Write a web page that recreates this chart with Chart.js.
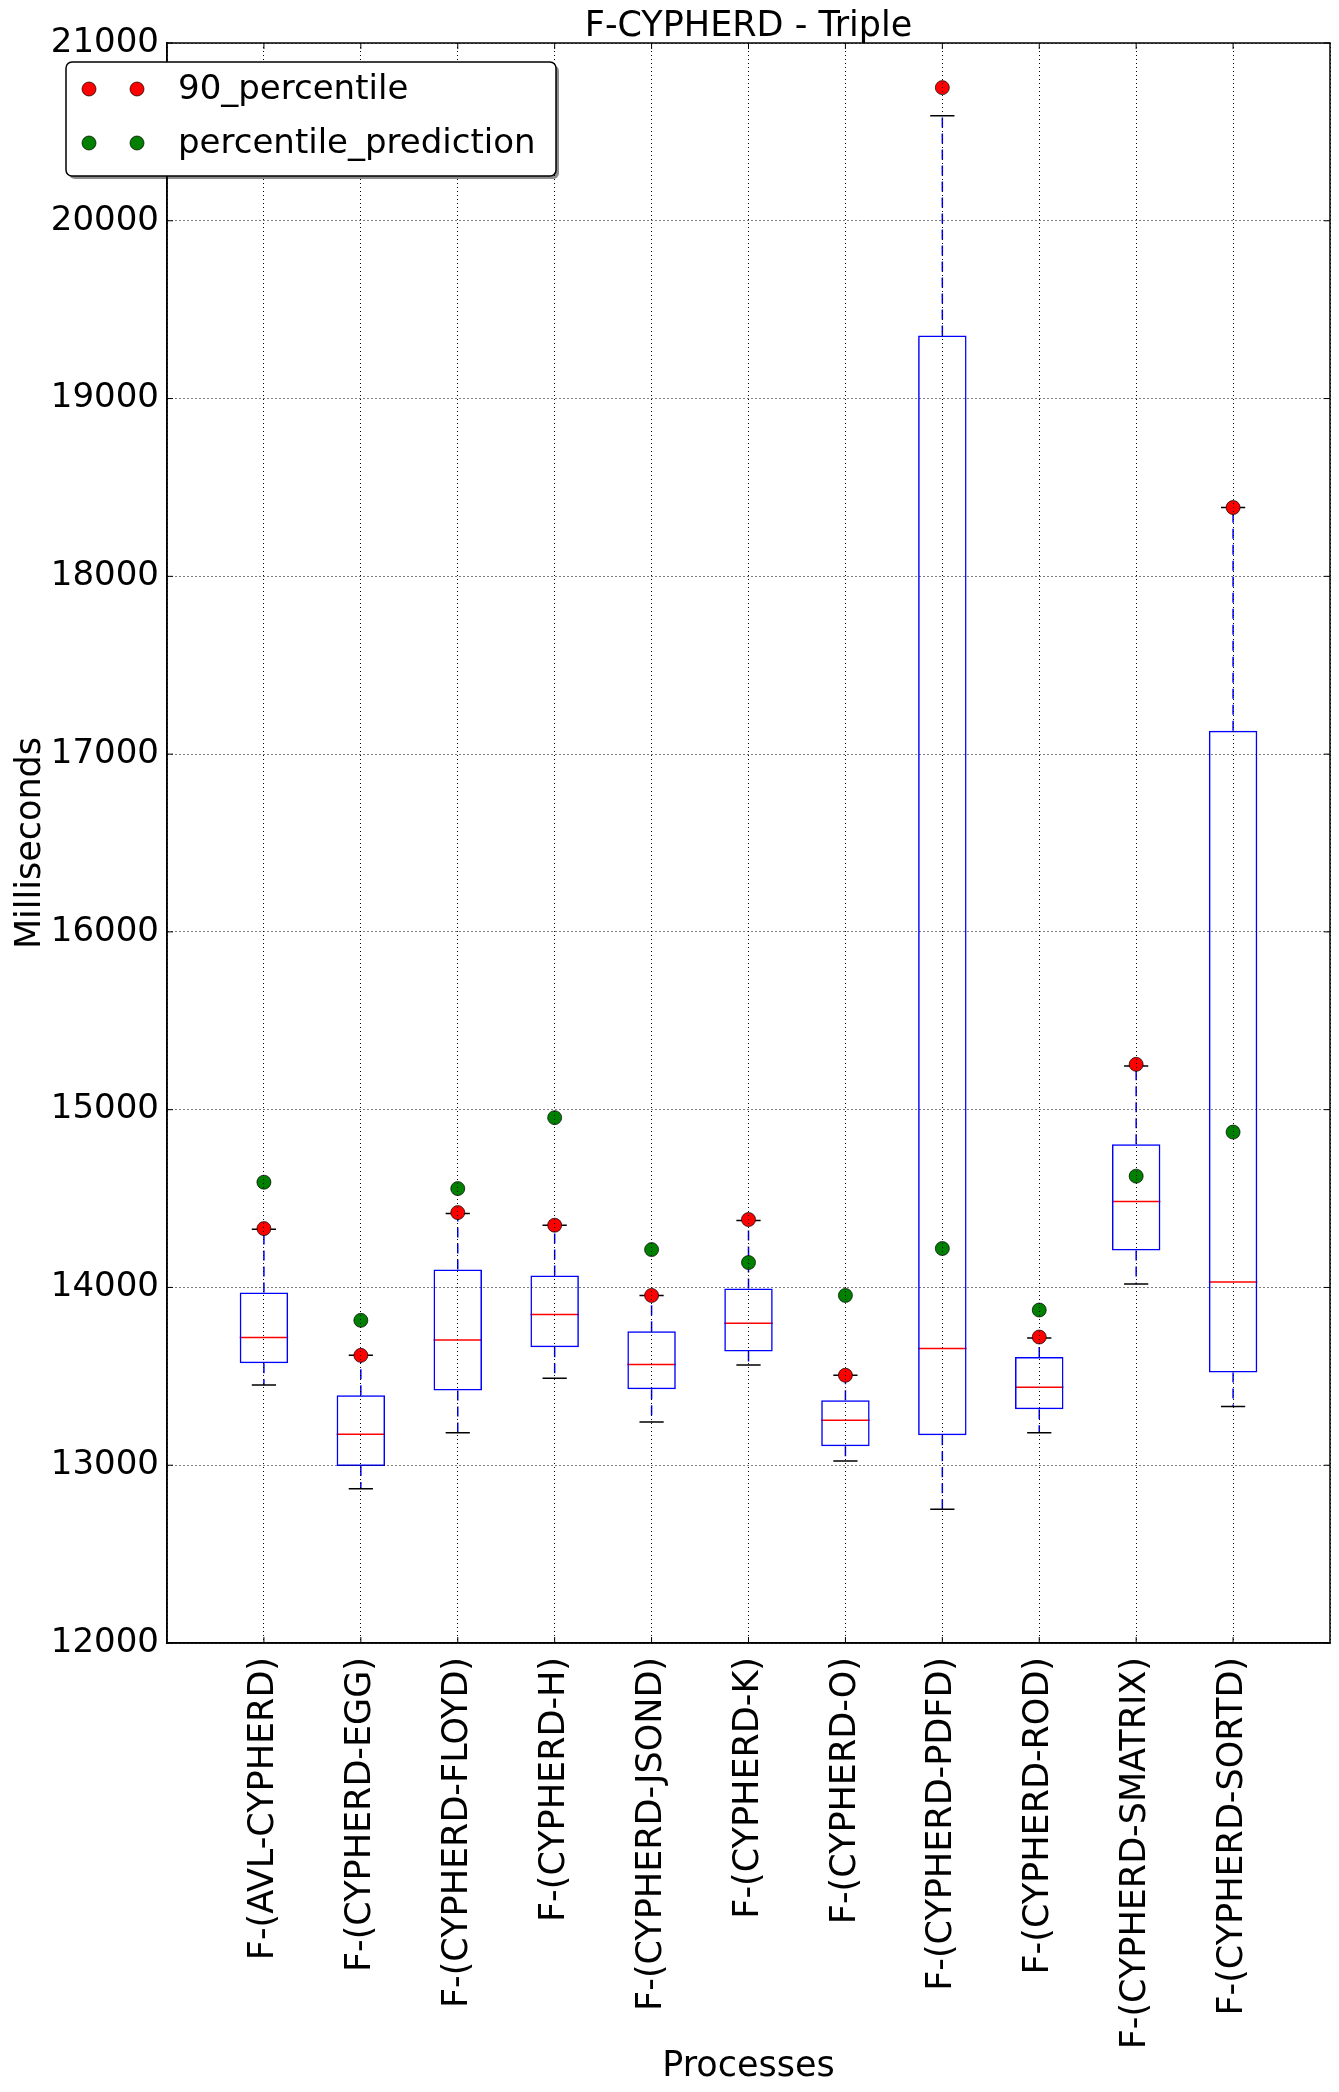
<!DOCTYPE html>
<html>
<head>
<meta charset="utf-8">
<title>F-CYPHERD - Triple</title>
<script src="https://cdn.jsdelivr.net/npm/chart.js@4.4.1/dist/chart.umd.min.js"></script>
<style>
  html, body { margin: 0; padding: 0; background: #fff; }
  canvas { display: block; }
</style>
</head>
<body>
<canvas id="box-chart" width="1339" height="2092"></canvas>
<script>
// process names, one box each (positions 1..11 on the x axis)
const categories = [
    'F-(AVL-CYPHERD)', 'F-(CYPHERD-EGG)', 'F-(CYPHERD-FLOYD)', 'F-(CYPHERD-H)',
    'F-(CYPHERD-JSOND)', 'F-(CYPHERD-K)', 'F-(CYPHERD-O)', 'F-(CYPHERD-PDFD)',
    'F-(CYPHERD-ROD)', 'F-(CYPHERD-SMATRIX)', 'F-(CYPHERD-SORTD)'
];

// box plot statistics (ms)
const whiskerLow  = [13451, 12867, 13182, 13489, 13243, 13564, 13024, 12753, 13182, 14019, 13331];
const q1          = [13573, 12996, 13421, 13663, 13427, 13640, 13107, 13169, 13315, 14208, 13522];
const median      = [13719, 13174, 13704, 13848, 13567, 13798, 13253, 13657, 13438, 14483, 14030];
const q3          = [13972, 13393, 14101, 14067, 13753, 13994, 13365, 19355, 13609, 14806, 17132];
const whiskerHigh = [14328, 13618, 14416, 14350, 13955, 14376, 13506, 20591, 13715, 15245, 18387];

// markers
const p90        = [14331, 13618, 14421, 14350, 13955, 14382, 13506, 20749, 13721, 15255, 18387];
const prediction = [14592, 13815, 14556, 14955, 14213, 14140, 13955, 14219, 13873, 14626, 14874];

const yMin = 12000;
const yMax = 21000;
const yStep = 1000;

const FONT = 'DejaVu Sans';
const FONT_SIZE = 35;

Chart.defaults.font.family = FONT;
Chart.defaults.color = '#000';

// whiskers, caps and medians, drawn under the boxes and markers
const boxParts = {
    id: 'boxParts',
    beforeDatasetsDraw(chart) {
        const { ctx, scales: { x, y } } = chart;
        const bars = chart.getDatasetMeta(2).data;
        ctx.save();
        bars.forEach((bar, i) => {
            const cx = x.getPixelForValue(i + 1);
            const half = bar.width / 2;

            // dashed whiskers
            ctx.strokeStyle = '#0000ff';
            ctx.lineWidth = 1.5;
            ctx.setLineDash([10, 6]);
            ctx.beginPath();
            ctx.moveTo(cx, y.getPixelForValue(q3[i]));
            ctx.lineTo(cx, y.getPixelForValue(whiskerHigh[i]));
            ctx.moveTo(cx, y.getPixelForValue(q1[i]));
            ctx.lineTo(cx, y.getPixelForValue(whiskerLow[i]));
            ctx.stroke();
            ctx.setLineDash([]);

            // caps
            ctx.strokeStyle = '#000';
            ctx.beginPath();
            [whiskerHigh[i], whiskerLow[i]].forEach(v => {
                const py = y.getPixelForValue(v);
                ctx.moveTo(cx - half / 2, py);
                ctx.lineTo(cx + half / 2, py);
            });
            ctx.stroke();

            // median
            ctx.strokeStyle = '#ff0000';
            ctx.beginPath();
            const my = y.getPixelForValue(median[i]);
            ctx.moveTo(cx - half, my);
            ctx.lineTo(cx + half, my);
            ctx.stroke();
        });
        ctx.restore();
    }
};

// closed frame with inward ticks on all four sides
const frame = {
    id: 'frame',
    afterDraw(chart) {
        const { ctx, chartArea: a, scales: { x, y } } = chart;
        const tl = 6;
        ctx.save();
        ctx.strokeStyle = '#000';
        ctx.lineWidth = 1.5;
        ctx.strokeRect(a.left, a.top, a.right - a.left, a.bottom - a.top);
        ctx.lineWidth = 1;
        ctx.beginPath();
        y.ticks.forEach(t => {
            const py = y.getPixelForValue(t.value);
            ctx.moveTo(a.left, py); ctx.lineTo(a.left + tl, py);
            ctx.moveTo(a.right, py); ctx.lineTo(a.right - tl, py);
        });
        categories.forEach((c, i) => {
            const px = x.getPixelForValue(i + 1);
            ctx.moveTo(px, a.top); ctx.lineTo(px, a.top + tl);
            ctx.moveTo(px, a.bottom); ctx.lineTo(px, a.bottom - tl);
        });
        ctx.stroke();
        ctx.restore();
    }
};

// matplotlib style legend: two markers per entry, rounded box with shadow
const boxLegend = {
    id: 'boxLegend',
    afterDraw(chart) {
        const { ctx } = chart;
        const items = chart.data.datasets.filter(d => d.type === 'scatter');
        const box = { x: 66, y: 62, w: 490, h: 114, r: 6 };
        ctx.save();
        ctx.fillStyle = 'rgba(0,0,0,0.45)';
        ctx.beginPath();
        ctx.roundRect(box.x + 3, box.y + 3, box.w, box.h, box.r);
        ctx.fill();
        ctx.fillStyle = '#fff';
        ctx.strokeStyle = '#000';
        ctx.lineWidth = 1.5;
        ctx.beginPath();
        ctx.roundRect(box.x, box.y, box.w, box.h, box.r);
        ctx.fill();
        ctx.stroke();

        ctx.font = '34px "' + FONT + '"';
        ctx.textBaseline = 'middle';
        ctx.textAlign = 'left';
        items.forEach((d, k) => {
            const ry = box.y + 27 + k * 54;
            [89, 137].forEach(mx => {
                ctx.beginPath();
                ctx.arc(mx, ry, 7, 0, Math.PI * 2);
                ctx.fillStyle = d.backgroundColor;
                ctx.fill();
                ctx.lineWidth = 0.7;
                ctx.strokeStyle = '#000';
                ctx.stroke();
            });
            ctx.fillStyle = '#000';
            ctx.fillText(d.label, 178, ry + 1);
        });
        ctx.restore();
    }
};

const gridOpts = { color: '#000', lineWidth: 1, drawTicks: false, z: 1 };
const borderOpts = { display: true, color: '#000', width: 1.5, dash: [1, 3], z: 1 };

const toPoints = arr => arr.map((v, i) => ({ x: i + 1, y: v }));

new Chart(document.getElementById('box-chart'), {
    type: 'bar',
    data: {
        datasets: [
            {
                type: 'scatter',
                label: '90_percentile',
                data: toPoints(p90),
                backgroundColor: '#ff0000',
                borderColor: '#000',
                borderWidth: 0.7,
                pointRadius: 7
            },
            {
                type: 'scatter',
                label: 'percentile_prediction',
                data: toPoints(prediction),
                backgroundColor: '#008000',
                borderColor: '#000',
                borderWidth: 0.7,
                pointRadius: 7
            },
            {
                type: 'bar',
                label: 'box',
                data: categories.map((c, i) => ({ x: i + 1, y: [q1[i], q3[i]] })),
                backgroundColor: 'rgba(0,0,0,0)',
                borderColor: '#0000ff',
                borderWidth: 1.5,
                borderSkipped: false,
                categoryPercentage: 1,
                barPercentage: 0.5
            }
        ]
    },
    options: {
        responsive: false,
        animation: false,
        devicePixelRatio: 1,
        layout: { padding: { top: 0, right: 9, bottom: 0, left: 0 } },
        plugins: {
            legend: { display: false },
            tooltip: { enabled: false },
            title: {
                display: true,
                fullSize: false,
                text: 'F-CYPHERD - Triple',
                color: '#000',
                font: { size: FONT_SIZE, weight: 'normal', lineHeight: 0.9 },
                padding: { top: 11, bottom: 0.5 }
            }
        },
        scales: {
            x: {
                type: 'linear',
                min: 0,
                max: 12,
                offset: false,
                grid: { ...gridOpts, offset: false },
                border: borderOpts,
                ticks: {
                    stepSize: 1,
                    autoSkip: false,
                    minRotation: 90,
                    maxRotation: 90,
                    padding: 14,
                    color: '#000',
                    font: { size: FONT_SIZE },
                    callback: v => categories[v - 1] || ''
                },
                title: {
                    display: true,
                    text: 'Processes',
                    color: '#000',
                    font: { size: FONT_SIZE },
                    padding: { top: 0, bottom: 4 }
                },
                afterFit: s => {
                    s.height = 449;
                    s.paddingLeft = 0;
                    s.paddingRight = 0;
                }
            },
            y: {
                min: yMin,
                max: yMax,
                grid: gridOpts,
                border: borderOpts,
                ticks: {
                    stepSize: yStep,
                    padding: 8,
                    color: '#000',
                    font: { size: 34 },
                    callback: v => String(v)
                },
                title: {
                    display: true,
                    text: 'Milliseconds',
                    color: '#000',
                    font: { size: FONT_SIZE },
                    padding: { top: 10, bottom: 0 }
                },
                afterFit: s => { s.width = 167; }
            }
        }
    },
    plugins: [boxParts, frame, boxLegend]
});
</script>
</body>
</html>
